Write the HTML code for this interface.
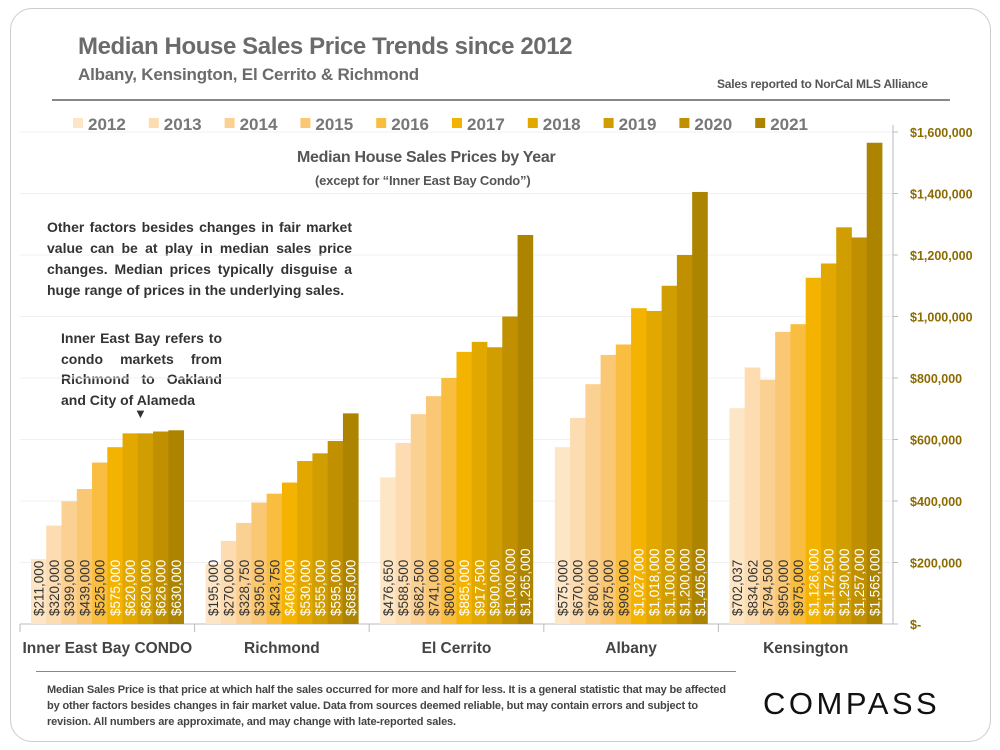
<!DOCTYPE html>
<html><head><meta charset="utf-8"><style>
body{margin:0;background:#fff;font-family:"Liberation Sans",sans-serif;}
#wrap{position:relative;width:1000px;height:750px;overflow:hidden;}
.t{position:absolute;white-space:nowrap;}
</style></head><body>
<div id="wrap">
<div style="position:absolute;left:10px;top:8px;width:979px;height:732px;border:1.5px solid #ccc;border-radius:22px;"></div>
<div class="t" style="left:78px;top:33px;font-size:24px;letter-spacing:-0.4px;font-weight:bold;color:#6b6b6b;">Median House Sales Price Trends since 2012</div>
<div class="t" style="left:78px;top:65px;font-size:17px;letter-spacing:-0.2px;font-weight:bold;color:#6b6b6b;">Albany, Kensington, El Cerrito &amp; Richmond</div>
<div class="t" style="left:717px;top:77px;font-size:12px;letter-spacing:-0.2px;font-weight:bold;color:#555;">Sales reported to NorCal MLS Alliance</div>
<div style="position:absolute;left:52px;top:99px;width:898px;height:2px;background:#888;"></div>
<div class="t" style="left:297px;top:149px;font-size:16px;letter-spacing:-0.3px;font-weight:bold;color:#555;">Median House Sales Prices by Year</div>
<div class="t" style="left:315px;top:173px;font-size:13px;letter-spacing:-0.2px;font-weight:bold;color:#555;">(except for “Inner East Bay Condo”)</div>
<div style="position:absolute;left:47px;top:217px;width:305px;font-size:14px;font-weight:bold;color:#333;line-height:21px;text-align:justify;">Other factors besides changes in fair market value can be at play in median sales price changes. Median prices typically disguise a huge range of prices in the underlying sales.</div>
<div style="position:absolute;left:61px;top:328px;width:161px;font-size:14px;font-weight:bold;color:#333;line-height:20.5px;text-align:justify;text-align-last:left;">Inner East Bay refers to condo markets from Richmond to Oakland and City of Alameda</div>
<div class="t" style="left:134px;top:406px;font-size:13px;color:#333;">▼</div>
<svg id="chart" width="1000" height="750" style="position:absolute;left:0;top:0;"></svg>
<div style="position:absolute;left:36px;top:671px;width:700px;height:1px;background:#888;"></div>
<div style="position:absolute;left:47px;top:682px;width:680px;font-size:11px;letter-spacing:-0.15px;font-weight:bold;color:#444;line-height:16px;">Median Sales Price is that price at which half the sales occurred for more and half for less. It is a general statistic that may be affected by other factors besides changes in fair market value. Data from sources deemed reliable, but may contain errors and subject to revision.  All numbers are approximate, and may change with late-reported sales.</div>
<div class="t" style="left:763px;top:686px;font-size:31px;letter-spacing:3.5px;color:#111;">COMPASS</div>
</div>
<script>
const categories=["Inner East Bay CONDO","Richmond","El Cerrito","Albany","Kensington"];
const years=["2012","2013","2014","2015","2016","2017","2018","2019","2020","2021"];
const s0=[211000,320000,399000,439000,525000,575000,620000,620000,626000,630000];
const s1=[195000,270000,328750,395000,423750,460000,530000,555000,595000,685000];
const s2=[476650,588500,682500,741000,800000,885000,917500,900000,1000000,1265000];
const s3=[575000,670000,780000,875000,909000,1027000,1018000,1100000,1200000,1405000];
const s4=[702037,834062,794500,950000,975000,1126000,1172500,1290000,1257000,1565000];
const series=[s0,s1,s2,s3,s4];
const yTicks=[0,200000,400000,600000,800000,1000000,1200000,1400000,1600000];
const tickLabels=["$-","$200,000","$400,000","$600,000","$800,000","$1,000,000","$1,200,000","$1,400,000","$1,600,000"];
const colors=["#fde6c6","#fcdcb0","#fbd193","#fac874","#f9be40","#f3b300","#e2a800","#d09e00","#c09000","#ad8400"];
const NS="http://www.w3.org/2000/svg";
const svg=document.getElementById('chart');
const y0=624,yTop=132,yMax=1600000,xL=20,xR=893,gW=(xR-xL)/categories.length,pad=11,bW=(gW-2*pad)/years.length;
const y=v=>y0-(v/yMax)*(y0-yTop);
function mk(t,a){const e=document.createElementNS(NS,t);for(const k in a)e.setAttribute(k,a[k]);svg.appendChild(e);return e;}
yTicks.forEach((v,i)=>{
 const g=mk('line',{x1:xL,x2:xR,y1:y(v),y2:y(v),stroke:'#f0f0f0','stroke-width':1});
 
 
 const tk=mk('line',{x1:xR,x2:xR+5,y1:y(v),y2:y(v),stroke:'#bbb'});
 
 
 const t=mk('text',{x:910,y:y(v)+5,'font-size':12.5,'font-weight':'bold',fill:'#8c6b00','font-family':'Liberation Sans, sans-serif'});
 t.textContent=tickLabels[i];
 
 
});
const ax=mk('line',{x1:xR,x2:xR,y1:125,y2:y0,stroke:'#bbb'});


const bx=mk('line',{x1:xL,x2:xR,y1:y0,y2:y0,stroke:'#bbb'});


categories.forEach((c,gi)=>{
 const gx=xL+gi*gW;
 const sp=mk('line',{x1:gx,x2:gx,y1:y0,y2:y0+8,stroke:'#bbb'});
 
 
 series[gi].forEach((v,i)=>{
  const bx0=gx+pad+i*bW;
  const r=mk('rect',{x:bx0,y:y(v),width:bW+0.4,height:y0-y(v),fill:colors[i]});
  
  
  const cx=bx0+bW/2+5;
  const t=mk('text',{x:cx,y:y0-8,transform:`rotate(-90 ${cx} ${y0-8})`,'font-size':13.5,fill:i<5?'#333':'#fff','font-family':'Liberation Sans, sans-serif'});
  t.textContent='$'+v.toLocaleString('en-US');
  
  
 });
 const ct=mk('text',{x:gx+gW/2,y:653,'text-anchor':'middle','font-size':15.5,'font-weight':'bold',fill:'#444','font-family':'Liberation Sans, sans-serif'});
 ct.textContent=c;
 
 
});
years.forEach((yr,i)=>{
 const lx=73+i*75.8;
 const r=mk('rect',{x:lx,y:118,width:10,height:10,fill:colors[i]});
 
 
 const t=mk('text',{x:lx+15,y:130,'font-size':17,'font-weight':'bold',fill:'#777','font-family':'Liberation Sans, sans-serif'});
 t.textContent=yr;
 
 
});
</script>
</body></html>
